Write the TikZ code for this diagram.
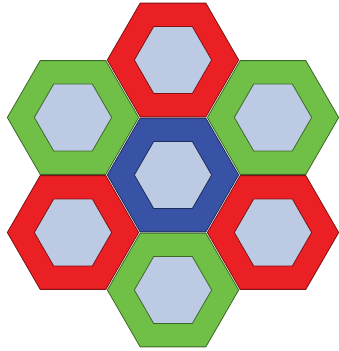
\documentclass[tikz,border=0pt]{standalone}
\usepackage{xcolor}
\usepackage{tikz}
\usetikzlibrary{shapes.geometric}
\definecolor{cellred}{RGB}{234,32,36}
\definecolor{cellgreen}{RGB}{112,192,72}
\definecolor{cellblue}{RGB}{56,82,166}
\definecolor{cellcore}{RGB}{188,202,228}

\begin{document}
\begin{tikzpicture}[
      x=0.03cm, y=-0.03cm,
      ring/.style={regular polygon, regular polygon sides=6, inner sep=0pt,
                   minimum size=3.94cm, line width=0.7pt},
      core/.style={regular polygon, regular polygon sides=6, inner sep=0pt,
                   minimum size=2.32cm, line width=0.7pt, fill=cellcore},
    ]
    \useasboundingbox (0,0) rectangle (339,351);
    % outer ring of cells first, the blue one in the middle
    \foreach \name/\px/\py/\col in {mid/173/175/cellblue, top/173/60/cellred,
        bot/173/290/cellgreen, ul/73/117.5/cellgreen, ur/273/117.5/cellgreen,
        ll/73/232.5/cellred, lr/273/232.5/cellred} {
      \node[ring, fill=\col, draw=\col!55!black] (\name) at (\px,\py) {};
      \node[core, draw=\col!55!black] (\name-in) at (\name) {};
    }
  \end{tikzpicture}
\end{document}
